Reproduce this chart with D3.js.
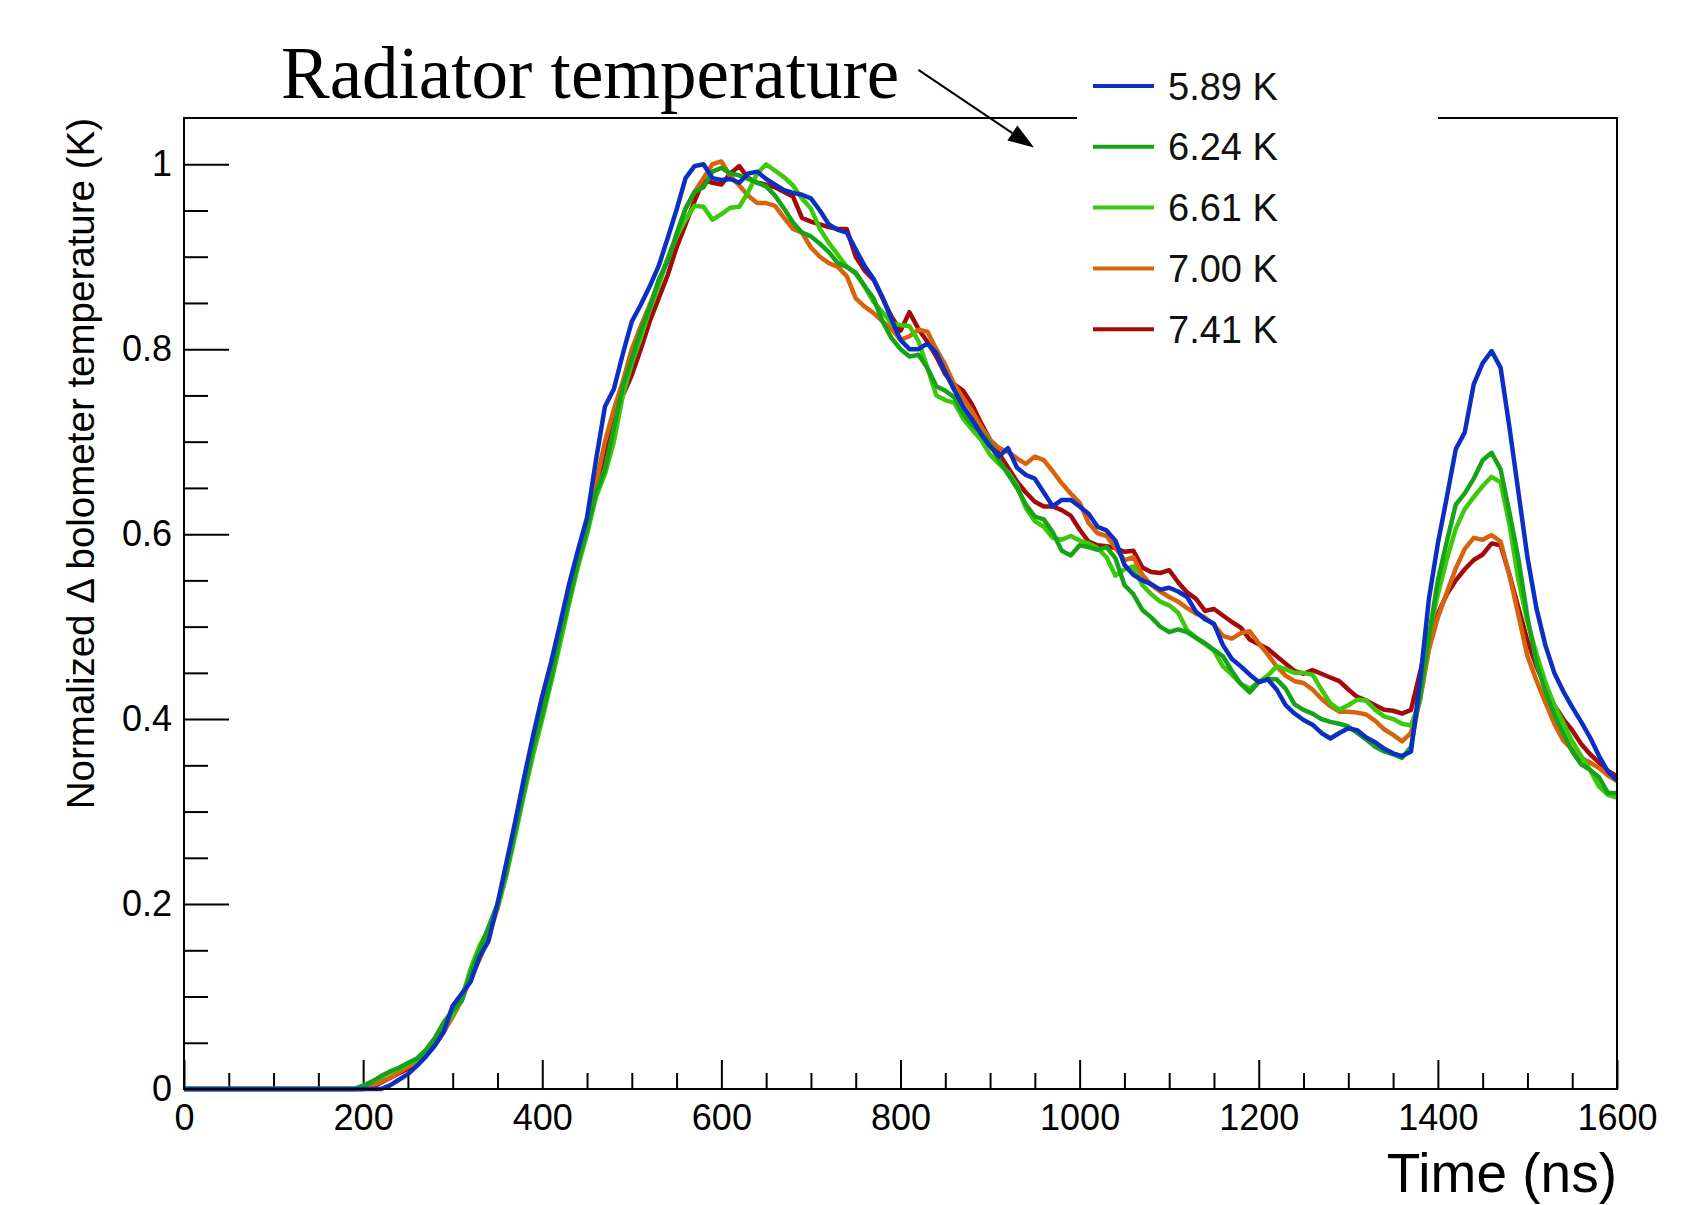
<!DOCTYPE html>
<html><head><meta charset="utf-8">
<script src="https://cdn.jsdelivr.net/npm/d3@7"></script>
<style>body{margin:0;background:#fff;} svg{display:block;}</style>
</head><body>
<svg id="chart" width="1686" height="1205"></svg>
<script>
// ---- data ----
const times = [0, 190].concat(d3.range(200, 1601, 10)); // ns
const seriesNames = ["5.89 K", "6.24 K", "6.61 K", "7.00 K", "7.41 K"];
const seriesColors = ["#0b2fc2", "#17a317", "#3cc90c", "#d9620f", "#a50a0a"];

const s589 = [0, 0,
 0, 0, 0, 0.004, 0.01, 0.016, 0.025, 0.035, 0.047, 0.062,
 0.09, 0.103, 0.116, 0.143, 0.16, 0.2, 0.245, 0.29, 0.338, 0.383,
 0.425, 0.462, 0.503, 0.546, 0.583, 0.618, 0.68, 0.738, 0.757, 0.795,
 0.83, 0.848, 0.868, 0.89, 0.92, 0.951, 0.985, 0.998, 1.0, 0.985,
 0.983, 0.984, 0.98, 0.99, 0.992, 0.984, 0.978, 0.972, 0.969, 0.967,
 0.963, 0.95, 0.935, 0.929, 0.926, 0.908, 0.89, 0.876, 0.856, 0.832,
 0.81, 0.8, 0.8, 0.806, 0.796, 0.775, 0.756, 0.738, 0.724, 0.708,
 0.695, 0.684, 0.693, 0.672, 0.664, 0.66, 0.645, 0.63, 0.637, 0.637,
 0.63, 0.622, 0.608, 0.604, 0.593, 0.567, 0.556, 0.55, 0.546, 0.54,
 0.542, 0.538, 0.532, 0.516, 0.508, 0.503, 0.48, 0.465, 0.457, 0.448,
 0.44, 0.443, 0.432, 0.415, 0.406, 0.399, 0.394, 0.385, 0.379, 0.385,
 0.39, 0.388, 0.38, 0.375, 0.368, 0.363, 0.36, 0.365, 0.44, 0.53,
 0.59, 0.64, 0.692, 0.71, 0.762, 0.785, 0.798, 0.78, 0.715, 0.645,
 0.575, 0.52, 0.48, 0.45, 0.43, 0.413, 0.397, 0.38, 0.36, 0.343,
 0.334];

const s624 = [0, 0,
 0.003, 0.008, 0.014, 0.019, 0.023, 0.028, 0.033, 0.042, 0.055, 0.072,
 0.085, 0.095, 0.125, 0.15, 0.175, 0.2, 0.235, 0.28, 0.325, 0.37,
 0.405, 0.445, 0.49, 0.53, 0.57, 0.605, 0.645, 0.67, 0.715, 0.76,
 0.79, 0.82, 0.845, 0.875, 0.895, 0.925, 0.952, 0.97, 0.975, 0.992,
 0.996, 0.99, 0.988, 0.984, 0.98, 0.976, 0.966, 0.952, 0.937, 0.926,
 0.922, 0.914, 0.905, 0.893, 0.889, 0.882, 0.868, 0.855, 0.83, 0.812,
 0.8, 0.792, 0.794, 0.78, 0.76, 0.755, 0.748, 0.73, 0.718, 0.71,
 0.698, 0.68, 0.665, 0.65, 0.632, 0.619, 0.616, 0.602, 0.582, 0.577,
 0.588, 0.586, 0.583, 0.586, 0.574, 0.545, 0.535, 0.518, 0.51, 0.5,
 0.494, 0.497, 0.494, 0.488, 0.482, 0.475, 0.468, 0.452, 0.438, 0.429,
 0.44, 0.443, 0.443, 0.433, 0.416, 0.41, 0.406, 0.4, 0.397, 0.395,
 0.392, 0.385, 0.378, 0.37, 0.365, 0.362, 0.358, 0.37, 0.425, 0.49,
 0.55, 0.592, 0.632, 0.644, 0.66, 0.68, 0.688, 0.67, 0.623, 0.573,
 0.51, 0.461, 0.43, 0.405, 0.385, 0.365, 0.351, 0.345, 0.337, 0.32,
 0.32];

const s661 = [0, 0,
 0.004, 0.008, 0.013, 0.018, 0.022, 0.027, 0.031, 0.04, 0.052, 0.068,
 0.08, 0.098, 0.13, 0.155, 0.172, 0.195, 0.232, 0.275, 0.32, 0.362,
 0.4, 0.44, 0.482, 0.525, 0.565, 0.6, 0.64, 0.665, 0.7, 0.75,
 0.785, 0.812, 0.843, 0.868, 0.898, 0.922, 0.94, 0.955, 0.954, 0.94,
 0.946, 0.953, 0.954, 0.97, 0.99, 1.0, 0.993, 0.986, 0.977, 0.963,
 0.952, 0.93, 0.915, 0.902, 0.889, 0.883, 0.868, 0.851, 0.84, 0.828,
 0.826, 0.825, 0.809, 0.78, 0.75, 0.745, 0.742, 0.725, 0.713, 0.702,
 0.686, 0.676, 0.667, 0.653, 0.628, 0.614, 0.608, 0.596, 0.594, 0.598,
 0.593, 0.59, 0.585, 0.575, 0.555, 0.562, 0.565, 0.545, 0.535, 0.527,
 0.523, 0.515, 0.496, 0.488, 0.481, 0.474, 0.457, 0.448, 0.438, 0.433,
 0.44, 0.447, 0.457, 0.454, 0.45, 0.45, 0.448, 0.432, 0.417, 0.41,
 0.415, 0.421, 0.42, 0.41, 0.403, 0.4, 0.395, 0.393, 0.42, 0.49,
 0.535, 0.573, 0.606, 0.627, 0.64, 0.652, 0.662, 0.656, 0.61, 0.55,
 0.505, 0.471, 0.44, 0.415, 0.396, 0.376, 0.36, 0.345, 0.327, 0.318,
 0.315];

const s700 = [0, 0,
 0, 0.003, 0.008, 0.012, 0.018, 0.024, 0.03, 0.038, 0.048, 0.062,
 0.078, 0.096, 0.12, 0.14, 0.165, 0.195, 0.232, 0.28, 0.325, 0.37,
 0.41, 0.45, 0.495, 0.535, 0.575, 0.61, 0.655, 0.7, 0.735, 0.765,
 0.8, 0.825, 0.848, 0.872, 0.898, 0.922, 0.952, 0.97, 0.985, 1.0,
 1.003, 0.987, 0.977, 0.966, 0.958, 0.958, 0.955, 0.942, 0.93, 0.926,
 0.91, 0.9, 0.893, 0.889, 0.879, 0.855, 0.846, 0.839, 0.83, 0.822,
 0.81, 0.814, 0.821, 0.819, 0.8, 0.783, 0.762, 0.747, 0.733, 0.716,
 0.702, 0.693, 0.689, 0.682, 0.676, 0.684, 0.68, 0.668, 0.655, 0.644,
 0.634, 0.612, 0.601, 0.598, 0.585, 0.572, 0.575, 0.556, 0.545, 0.538,
 0.532, 0.527, 0.52, 0.514, 0.51, 0.502, 0.49, 0.487, 0.493, 0.495,
 0.482, 0.47, 0.457, 0.447, 0.441, 0.439, 0.432, 0.422, 0.414, 0.408,
 0.408, 0.407, 0.405, 0.398, 0.389, 0.383, 0.376, 0.385, 0.42, 0.475,
 0.51, 0.537, 0.563, 0.584, 0.596, 0.594, 0.599, 0.592, 0.555, 0.512,
 0.468, 0.442, 0.418, 0.395, 0.377, 0.367, 0.358, 0.353, 0.347, 0.339,
 0.333];

const s741 = [0, 0,
 0, 0.002, 0.007, 0.012, 0.017, 0.022, 0.028, 0.036, 0.047, 0.062,
 0.08, 0.1, 0.122, 0.142, 0.168, 0.198, 0.235, 0.282, 0.328, 0.37,
 0.41, 0.448, 0.49, 0.53, 0.57, 0.605, 0.65, 0.69, 0.72, 0.75,
 0.772, 0.8, 0.83, 0.855, 0.88, 0.91, 0.935, 0.96, 0.983, 0.98,
 0.978, 0.99, 0.998, 0.985, 0.98, 0.978, 0.975, 0.97, 0.965, 0.942,
 0.938, 0.935, 0.932, 0.93, 0.93, 0.9, 0.885, 0.875, 0.855, 0.835,
 0.82, 0.84, 0.822, 0.808, 0.792, 0.773, 0.762, 0.755, 0.74, 0.72,
 0.702, 0.687, 0.672, 0.657, 0.645, 0.635, 0.63, 0.63, 0.626, 0.62,
 0.605, 0.592, 0.588, 0.587, 0.585, 0.581, 0.582, 0.564, 0.559, 0.558,
 0.561, 0.548, 0.537, 0.53, 0.517, 0.519, 0.512, 0.505, 0.499, 0.486,
 0.481, 0.476, 0.468, 0.46, 0.452, 0.449, 0.453, 0.449, 0.445, 0.441,
 0.432, 0.424, 0.42, 0.415, 0.41, 0.409, 0.406, 0.41, 0.45, 0.492,
 0.514, 0.535, 0.55, 0.562, 0.572, 0.578, 0.59, 0.588, 0.556, 0.52,
 0.485, 0.457, 0.435, 0.415, 0.4, 0.388, 0.373, 0.362, 0.353, 0.344,
 0.338];

const seriesValues = [s589, s624, s661, s700, s741];
const xMajorTicks = [0, 200, 400, 600, 800, 1000, 1200, 1400, 1600];
const yMajorTicks = [0, 0.2, 0.4, 0.6, 0.8, 1];
const yTickLabels = ["0", "0.2", "0.4", "0.6", "0.8", "1"];
const xTitle = "Time (ns)";
const yTitle = "Normalized \u0394 bolometer temperature (K)";
const annotation = "Radiator temperature";

// ---- layout ----
const svg = d3.select("#chart");
const L = 184, R = 1617, T = 118, B = 1089;
const x = d3.scaleLinear().domain([0, 1600]).range([L, R]);
const y = d3.scaleLinear().domain([0, 1.05]).range([B, T]);
const sans = "'Liberation Sans', Arial, Helvetica, sans-serif";

// minor ticks
const xMinor = d3.range(0, 1601, 50).filter(v => v % 200 !== 0);
const yMinor = d3.range(0, 21, 1).map(i => i * 0.05).filter(v => Math.abs(v * 5 - Math.round(v * 5)) > 1e-6);

// x axis
const gx = svg.append("g").attr("transform", `translate(0,${B})`)
  .call(d3.axisBottom(x).tickValues(xMajorTicks).tickFormat(d3.format("d"))
    .tickSize(-29).tickPadding(15));
gx.select(".domain").remove();
gx.selectAll("line").attr("stroke", "#000").attr("stroke-width", 2);
gx.selectAll("text").attr("font-family", sans).attr("font-size", 36).attr("fill", "#000");

const gxm = svg.append("g").attr("transform", `translate(0,${B})`)
  .call(d3.axisBottom(x).tickValues(xMinor).tickFormat("").tickSize(-16));
gxm.select(".domain").remove();
gxm.selectAll("line").attr("stroke", "#000").attr("stroke-width", 2);

// y axis
const gy = svg.append("g").attr("transform", `translate(${L},0)`)
  .call(d3.axisLeft(y).tickValues(yMajorTicks).tickFormat((d, i) => yTickLabels[i])
    .tickSize(-45).tickPadding(12));
gy.select(".domain").remove();
gy.selectAll("line").attr("stroke", "#000").attr("stroke-width", 2);
gy.selectAll("text").attr("font-family", sans).attr("font-size", 36).attr("fill", "#000");

const gym = svg.append("g").attr("transform", `translate(${L},0)`)
  .call(d3.axisLeft(y).tickValues(yMinor).tickFormat("").tickSize(-24));
gym.select(".domain").remove();
gym.selectAll("line").attr("stroke", "#000").attr("stroke-width", 2);

// data lines (drawn from last to first so 5.89 K is on top)
const line = d3.line().x((d, i) => x(times[i])).y(d => y(d)).curve(d3.curveLinear);
for (let k = seriesValues.length - 1; k >= 0; k--) {
  svg.append("path").datum(seriesValues[k])
    .attr("d", line).attr("fill", "none")
    .attr("stroke", seriesColors[k]).attr("stroke-width", 4.5)
    .attr("stroke-linejoin", "round");
}

// frame
svg.append("rect").attr("x", L).attr("y", T).attr("width", R - L).attr("height", B - T)
  .attr("fill", "none").attr("stroke", "#000").attr("stroke-width", 2);

// legend (white box covers the frame)
const legX = 1077, legW = 361, legTop = 86, legStep = 60.8;
svg.append("rect").attr("x", legX).attr("y", 45).attr("width", legW).attr("height", 320).attr("fill", "#fff");
const leg = svg.append("g");
seriesNames.forEach((name, i) => {
  const yy = legTop + i * legStep;
  leg.append("line").attr("x1", 1093).attr("x2", 1154).attr("y1", yy).attr("y2", yy)
    .attr("stroke", seriesColors[i]).attr("stroke-width", 4);
  leg.append("text").attr("x", 1168).attr("y", yy).attr("dy", "0.36em")
    .attr("font-family", sans).attr("font-size", 38).attr("fill", "#111").text(name);
});

// axis titles
svg.append("text").attr("x", R).attr("y", 1192).attr("text-anchor", "end")
  .attr("font-family", sans).attr("font-size", 55).attr("fill", "#000").text(xTitle);
svg.append("text").attr("transform", `translate(94,${T}) rotate(-90)`)
  .attr("text-anchor", "end").attr("font-family", sans).attr("font-size", 38.5)
  .attr("fill", "#000").text(yTitle);

// annotation
svg.append("text").attr("x", 281).attr("y", 98)
  .attr("font-family", "'Liberation Serif', 'Times New Roman', serif").attr("font-size", 73)
  .attr("fill", "#000").text(annotation);
const a0 = [x(820), y(1.102)], a1 = [x(949), y(1.018)];
const ang = Math.atan2(a1[1] - a0[1], a1[0] - a0[0]);
const hl = 26, hw = 9;
const base = [a1[0] - hl * Math.cos(ang), a1[1] - hl * Math.sin(ang)];
svg.append("line").attr("x1", a0[0]).attr("y1", a0[1]).attr("x2", base[0]).attr("y2", base[1])
  .attr("stroke", "#000").attr("stroke-width", 2);
svg.append("polygon").attr("points", [
  a1,
  [base[0] + hw * Math.sin(ang), base[1] - hw * Math.cos(ang)],
  [base[0] - hw * Math.sin(ang), base[1] + hw * Math.cos(ang)]
].map(p => p.join(",")).join(" ")).attr("fill", "#000");
</script>
</body></html>
